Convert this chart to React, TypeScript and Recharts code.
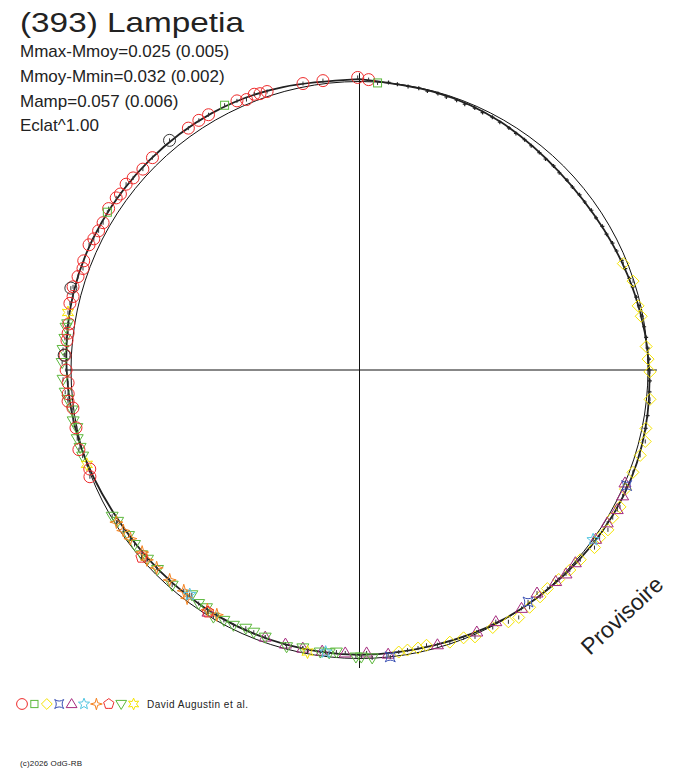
import React from "react"
import { ComposedChart, Line, Scatter, XAxis, YAxis, ReferenceLine } from "recharts"

// phase (0 = top, clockwise) and radius relative to the reference circle
const modelPhase = [0, 0.042, 0.083, 0.125, 0.167, 0.208, 0.25, 0.292, 0.333, 0.375, 0.417, 0.458, 0.5, 0.542, 0.583, 0.625, 0.667, 0.708, 0.75, 0.792, 0.833, 0.875, 0.917, 0.958]
const modelRadius = [1.008, 0.998, 0.989, 0.975, 0.977, 0.99, 1.004, 1.013, 1.012, 1.004, 0.998, 0.989, 0.987, 0.985, 0.984, 0.982, 0.986, 1.002, 1.015, 1.027, 1.03, 1.029, 1.027, 1.016]

const axisX = [-1.021, 1.031]
const axisY = [-1.033, 1.029]

const redCircles = [
  [0.005, 1.007], [0.999, 1.014], [0.98, 1.011], [0.969, 1.012], [0.949, 1.017], [0.945, 1.018], [0.942, 1.023],
  [0.937, 1.016], [0.932, 1.025], [0.915, 1.028], [0.909, 1.029], [0.902, 1.027], [0.877, 1.028], [0.869, 1.024],
  [0.862, 1.029], [0.857, 1.034], [0.851, 1.029], [0.848, 1.033], [0.841, 1.034], [0.833, 1.025], [0.828, 1.025],
  [0.823, 1.027], [0.819, 1.033], [0.81, 1.028], [0.806, 1.021], [0.801, 1.028], [0.795, 1.034], [0.79, 1.025],
  [0.786, 1.03], [0.775, 1.02], [0.77, 1.018], [0.766, 1.019], [0.758, 1.022], [0.75, 1.017], [0.743, 1.011],
  [0.737, 1.013], [0.733, 1.016], [0.729, 1.002], [0.718, 1.003], [0.706, 1.011], [0.694, 0.996], [0.69, 1.005],
]
const blackCircles = [[0.89, 1.033], [0.794, 1.04], [0.758, 1.025]]
const greenSquares = [[0.01, 0.997], [0.925, 1.03], [0.839, 1.031]]
const yellowDiamonds = [
  [0.189, 0.986], [0.2, 0.997], [0.214, 0.991], [0.22, 0.994], [0.237, 0.997], [0.244, 1.001], [0.251, 1.007],
  [0.266, 1.012], [0.282, 1.013], [0.289, 1.021], [0.297, 1.017], [0.307, 1.012], [0.317, 1.01], [0.327, 1.02],
  [0.334, 1.016], [0.341, 1.024], [0.347, 1.015], [0.353, 1.021], [0.363, 1.009], [0.371, 1.006], [0.379, 1.002],
  [0.387, 0.999], [0.393, 1.005], [0.401, 1.012], [0.409, 1.02], [0.415, 1.014], [0.424, 1.005], [0.435, 1.008],
  [0.441, 0.996], [0.449, 0.994], [0.462, 0.982], [0.467, 0.985], [0.473, 0.985], [0.478, 0.987],
]
const blueStars = [[0.315, 1.009], [0.4, 0.994], [0.483, 1.0]]
const purpleTriangles = [
  [0.314, 1.0], [0.321, 1.011], [0.329, 1.016], [0.338, 1.009], [0.349, 1.007], [0.366, 1.003], [0.374, 1.006],
  [0.381, 1.0], [0.393, 0.988], [0.405, 0.999], [0.421, 0.992], [0.433, 0.995], [0.456, 0.99], [0.484, 0.99],
  [0.496, 0.981], [0.508, 0.982], [0.521, 0.983], [0.532, 0.984], [0.542, 0.984], [0.554, 0.982], [0.589, 0.99],
]
const cyanStars = [[0.603, 0.976], [0.519, 0.985], [0.35, 1.001]]
const orangeStars = [
  [0.661, 0.994], [0.655, 0.99], [0.649, 0.986], [0.639, 0.983], [0.634, 0.988], [0.627, 0.982], [0.617, 0.981],
  [0.607, 0.978], [0.603, 0.991], [0.59, 0.984], [0.584, 0.982],
]
const redPentagons = [[0.637, 0.996], [0.589, 0.99]]
const greenTriangles = [
  [0.775, 1.024], [0.773, 1.028], [0.767, 1.027], [0.761, 1.03], [0.754, 1.031], [0.745, 1.028], [0.738, 1.023],
  [0.734, 1.016], [0.728, 1.006], [0.722, 1.008], [0.718, 1.0], [0.712, 1.007], [0.707, 1.005], [0.702, 1.005],
  [0.665, 0.996], [0.661, 0.989], [0.651, 0.985], [0.645, 0.987], [0.638, 0.99], [0.634, 0.985], [0.626, 0.984],
  [0.614, 0.989], [0.602, 0.972], [0.596, 0.983], [0.591, 0.98], [0.585, 0.995], [0.579, 0.987], [0.573, 0.987],
  [0.566, 0.978], [0.561, 0.98], [0.554, 0.982], [0.541, 0.992], [0.532, 0.983], [0.522, 0.987], [0.517, 0.986],
  [0.513, 0.981], [0.502, 0.995], [0.499, 0.995], [0.493, 0.999],
]
const yellowStars = [[0.781, 1.03], [0.697, 1.0], [0.529, 0.994]]
const blackDots = [
  [0.016, 1.002], [0.021, 0.999], [0.027, 0.997], [0.033, 0.998], [0.038, 0.995], [0.044, 0.996], [0.049, 0.993],
  [0.055, 0.994], [0.06, 0.991], [0.066, 0.992], [0.071, 0.989], [0.077, 0.99], [0.082, 0.987], [0.088, 0.986],
  [0.093, 0.983], [0.099, 0.982], [0.104, 0.979], [0.11, 0.978], [0.115, 0.975], [0.121, 0.976], [0.126, 0.973],
  [0.132, 0.975], [0.137, 0.973], [0.143, 0.975], [0.148, 0.974], [0.154, 0.976], [0.159, 0.975], [0.165, 0.978],
  [0.17, 0.977], [0.176, 0.981], [0.181, 0.982], [0.187, 0.985], [0.192, 0.986], [0.198, 0.988], [0.203, 0.99],
  [0.209, 0.992], [0.214, 0.994], [0.22, 0.996], [0.226, 0.998], [0.232, 1.0], [0.238, 1.002], [0.244, 1.004],
  [0.25, 1.005], [0.256, 1.007], [0.262, 1.008], [0.268, 1.01], [0.275, 1.011], [0.282, 1.012],
]

const legendKinds = ["circle", "square", "diamond", "astroid", "triangle", "star5", "star4", "pentagon", "down", "star6"]
const legendColors = ["#ee2a2a", "#5cb83c", "#f5e400", "#3a50b4", "#a52a7e", "#52c6e2", "#f5821f", "#ee2a2a", "#5cb83c", "#f5e400"]

const toXY = (p: number, r: number) => ({ x: r * Math.sin(2 * Math.PI * p), y: r * Math.cos(2 * Math.PI * p) })
const pts = (list: number[][]) => list.map(([p, r]) => toXY(p, r))

const modelData = [...modelPhase, modelPhase[0]].map((p, i) => toXY(p, modelRadius[i % modelRadius.length]))
const circleData = Array.from({ length: 121 }, (_, i) => toXY(i / 120, 1))

const star = (cx: number, cy: number, n: number, ro: number, ri: number, rot = 0) => {
  const out: string[] = []
  for (let i = 0; i < n * 2; i++) {
    const a = rot + (Math.PI * i) / n
    const rr = i % 2 === 0 ? ro : ri
    out.push(`${cx + rr * Math.sin(a)},${cy - rr * Math.cos(a)}`)
  }
  return out.join(" ")
}

function Marker({ kind, color, cx, cy, s = 1, tick = false }: any) {
  const p = { fill: "none", stroke: color, strokeWidth: 1 }
  let shape: any = null
  switch (kind) {
    case "circle":
      shape = <circle cx={cx} cy={cy} r={6 * s} {...p} />
      break
    case "square":
      shape = <rect x={cx - 4 * s} y={cy - 4 * s} width={8 * s} height={8 * s} {...p} />
      break
    case "diamond":
      shape = <polygon points={star(cx, cy, 2, 6 * s, 6 * s)} {...p} />
      break
    case "astroid": {
      const a = 5 * s
      const b = 1.5 * s
      shape = (
        <path
          d={`M${cx - a},${cy - a} Q${cx},${cy - b} ${cx + a},${cy - a} Q${cx + b},${cy} ${cx + a},${cy + a} Q${cx},${cy + b} ${cx - a},${cy + a} Q${cx - b},${cy} ${cx - a},${cy - a} Z`}
          {...p}
        />
      )
      break
    }
    case "triangle":
      shape = <polygon points={`${cx},${cy - 6 * s} ${cx + 6 * s},${cy + 4 * s} ${cx - 6 * s},${cy + 4 * s}`} {...p} />
      break
    case "down":
      shape = <polygon points={`${cx - 6 * s},${cy - 4 * s} ${cx + 6 * s},${cy - 4 * s} ${cx},${cy + 6 * s}`} {...p} />
      break
    case "star5":
      shape = <polygon points={star(cx, cy, 5, 6.5 * s, 2.8 * s)} {...p} />
      break
    case "star4":
      shape = <polygon points={star(cx, cy, 4, 6.5 * s, 2 * s)} {...p} />
      break
    case "pentagon":
      shape = <polygon points={star(cx, cy, 5, 6 * s, 6 * s * 0.809)} {...p} />
      break
    case "star6":
      shape = <polygon points={star(cx, cy, 6, 6.5 * s, 3.2 * s)} {...p} />
      break
  }
  return (
    <g>
      {shape}
      {tick && <line x1={cx} y1={cy - 2} x2={cx} y2={cy + 2} stroke="#333" strokeWidth={1} />}
    </g>
  )
}

const mk = (kind: string, color: string) => (props: any) => <Marker kind={kind} color={color} cx={props.cx} cy={props.cy} tick />

const dotShape = (props: any) => (
  <g stroke="#222" strokeWidth={1.2}>
    <line x1={props.cx - 2} y1={props.cy} x2={props.cx + 2} y2={props.cy} />
    <line x1={props.cx} y1={props.cy - 2} x2={props.cx} y2={props.cy + 2} />
  </g>
)

const font = "'Liberation Sans', Arial, sans-serif"

export default function App() {
  return (
    <div style={{ position: "absolute", left: 0, top: 0, width: 688, height: 768, background: "#fff" }}>
      <ComposedChart width={688} height={768} margin={{ top: 23.8, right: 11.15, bottom: 22.95, left: 13.3 }}>
        <XAxis type="number" dataKey="x" domain={[-1.2, 1.1]} hide allowDataOverflow />
        <YAxis type="number" dataKey="y" domain={[-1.3, 1.2]} hide allowDataOverflow />
        <ReferenceLine segment={[{ x: axisX[0], y: 0 }, { x: axisX[1], y: 0 }]} stroke="#111" strokeWidth={1} ifOverflow="visible" />
        <ReferenceLine segment={[{ x: 0, y: axisY[0] }, { x: 0, y: axisY[1] }]} stroke="#111" strokeWidth={1} ifOverflow="visible" />
        <Line data={circleData} dataKey="y" type="linear" stroke="#111" strokeWidth={1} dot={false} isAnimationActive={false} />
        <Line data={modelData} dataKey="y" type="natural" stroke="#222" strokeWidth={1.8} dot={false} isAnimationActive={false} />
        <Scatter data={pts(blackDots)} shape={dotShape} isAnimationActive={false} />
        <Scatter data={pts(yellowDiamonds)} shape={mk("diamond", legendColors[2])} isAnimationActive={false} />
        <Scatter data={pts(purpleTriangles)} shape={mk("triangle", legendColors[4])} isAnimationActive={false} />
        <Scatter data={pts(greenTriangles)} shape={mk("down", legendColors[8])} isAnimationActive={false} />
        <Scatter data={pts(orangeStars)} shape={mk("star4", legendColors[6])} isAnimationActive={false} />
        <Scatter data={pts(redPentagons)} shape={mk("pentagon", legendColors[7])} isAnimationActive={false} />
        <Scatter data={pts(blueStars)} shape={mk("astroid", legendColors[3])} isAnimationActive={false} />
        <Scatter data={pts(cyanStars)} shape={mk("star5", legendColors[5])} isAnimationActive={false} />
        <Scatter data={pts(yellowStars)} shape={mk("star6", legendColors[9])} isAnimationActive={false} />
        <Scatter data={pts(redCircles)} shape={mk("circle", legendColors[0])} isAnimationActive={false} />
        <Scatter data={pts(blackCircles)} shape={mk("circle", "#333")} isAnimationActive={false} />
        <Scatter data={pts(greenSquares)} shape={mk("square", legendColors[1])} isAnimationActive={false} />
      </ComposedChart>
      <svg width={688} height={768} style={{ position: "absolute", left: 0, top: 0, pointerEvents: "none" }}>
        <g fontFamily={font} fill="#222">
          <text x={20} y={32} fontSize={27.5} textLength={224} lengthAdjust="spacingAndGlyphs">(393) Lampetia</text>
          <text x={20} y={57} fontSize={17}>Mmax-Mmoy=0.025 (0.005)</text>
          <text x={20} y={82} fontSize={17}>Mmoy-Mmin=0.032 (0.002)</text>
          <text x={20} y={107} fontSize={17}>Mamp=0.057 (0.006)</text>
          <text x={20} y={131} fontSize={17}>Eclat^1.00</text>
          <text x={590} y={656} fontSize={23} transform="rotate(-43 590 656)">Provisoire</text>
          <text x={147} y={708} fontSize={10} textLength={101} lengthAdjust="spacing">David Augustin et al.</text>
          <text x={20} y={766} fontSize={8} textLength={62} lengthAdjust="spacing">(c)2026 OdG-RB</text>
        </g>
        {legendKinds.map((k, i) => (
          <Marker key={k + i} kind={k} color={legendColors[i]} cx={22 + i * 12.4} cy={704} s={0.9} />
        ))}
      </svg>
    </div>
  )
}
